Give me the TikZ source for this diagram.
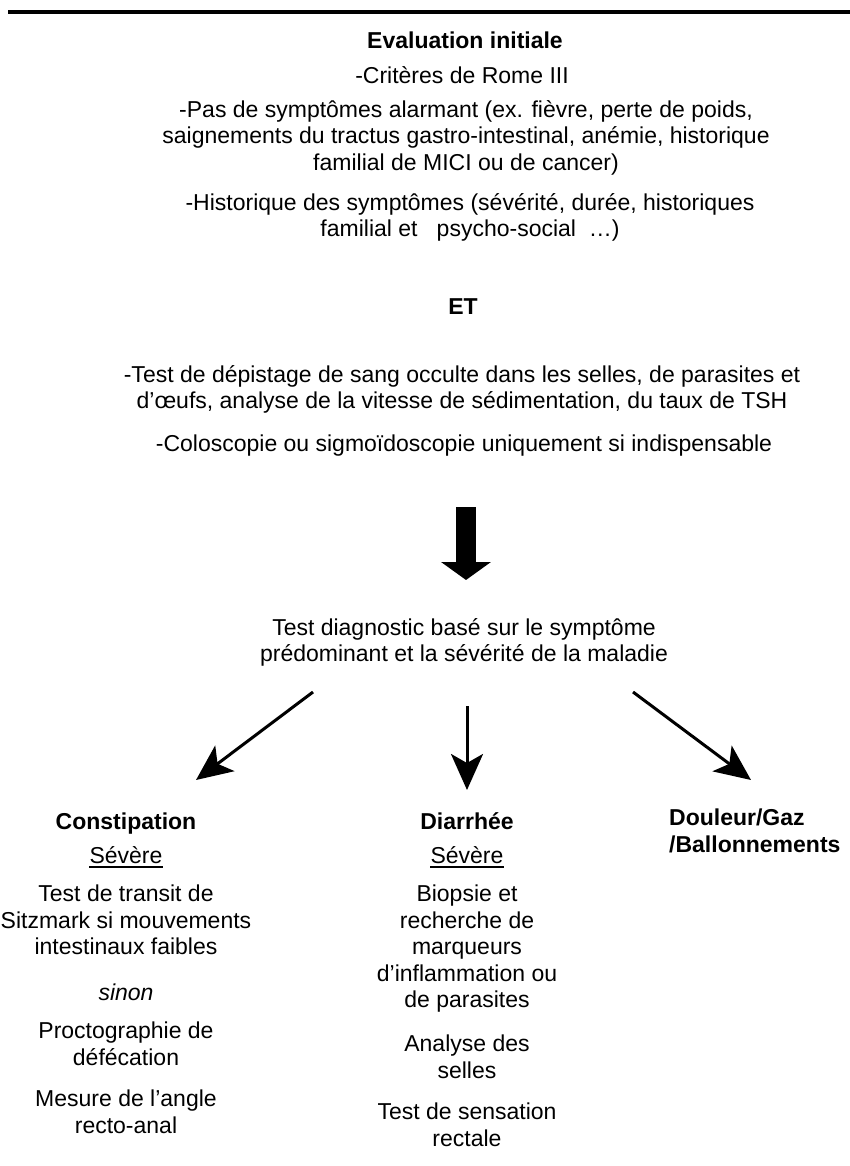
\documentclass[tikz,border=0pt]{standalone}
\usepackage{fontspec}
\setmainfont{Liberation Sans}
\usetikzlibrary{arrows.meta}
\newcommand\myfs{\fontsize{23}{26.5}\selectfont}
\begin{document}
\begin{tikzpicture}[x=1pt,y=-1pt,
  txt/.style={font=\myfs, inner sep=0pt, anchor=north, align=center,
    execute at begin node={\rule{0pt}{20pt}}},
  bold/.style={font=\myfs\bfseries},
  ital/.style={font=\myfs\itshape},
  branch/.style={line width=3pt, -{Stealth[length=36pt,width=32pt,inset=9pt]}},
  bigarrow/.style={line width=20pt, -{Triangle[length=18pt,width=49pt]}},
  uline/.style={line width=1.8pt}]
\useasboundingbox (0,0) rectangle (850,1166);
\fill[white] (0,0) rectangle (850,1166);
% top rule
\coordinate (r1) at (8,12);
\coordinate (r2) at (850,12);
\draw[line width=4.5pt] (r1) -- (r2);
% initial evaluation
\node[txt,bold] (eval) at (465,28) {Evaluation initiale};
\node[txt] (rome) at (462,63) {-Critères de Rome III};
\node[txt] (alarm) at (466,100) {-Pas de symptômes alarmant (ex. fièvre, perte de poids,\\saignements du tractus gastro-intestinal, anémie, historique\\familial de MICI ou de cancer)};
\node[txt] (hist) at (470,193) {-Historique des symptômes (sévérité, durée, historiques\\familial et\ \ \ psycho-social\ \ …)};
\node[txt,bold] (et) at (463,294) {ET};
\node[txt] (tests) at (462,365) {-Test de dépistage de sang occulte dans les selles, de parasites et\\d’œufs, analyse de la vitesse de sédimentation, du taux de TSH};
\node[txt] (colo) at (464,431) {-Coloscopie ou sigmoïdoscopie uniquement si indispensable};
% big arrow
\coordinate (bas) at (466,507);
\coordinate (bae) at (466,580);
\draw[bigarrow] (bas) -- (bae);
\node[txt] (diag) at (464,618) {Test diagnostic basé sur le symptôme\\prédominant et la sévérité de la maladie};
% branches
\coordinate (a1s) at (313,692);
\coordinate (a1e) at (196,780);
\coordinate (a2s) at (467,706);
\coordinate (a2e) at (467,790);
\coordinate (a3s) at (633,692);
\coordinate (a3e) at (751,780);
\draw[branch] (a1s) -- (a1e);
\draw[branch] (a2s) -- (a2e);
\draw[branch] (a3s) -- (a3e);
% constipation column
\node[txt,bold] (cons) at (126,809) {Constipation};
\node[txt] (sev1) at (126,843) {Sévère};
\draw[uline] ([yshift=-4pt]sev1.base west) -- ([yshift=-4pt]sev1.base east);
\node[txt] (c1) at (126,885) {Test de transit de\\Sitzmark si mouvements\\intestinaux faibles};
\node[txt,ital] (sinon) at (126,980) {sinon};
\node[txt] (c2) at (126,1022) {Proctographie de\\défécation};
\node[txt] (c3) at (126,1090) {Mesure de l’angle\\recto-anal};
% diarrhea column
\node[txt,bold] (diar) at (467,809) {Diarrhée};
\node[txt] (sev2) at (467,843) {Sévère};
\draw[uline] ([yshift=-4pt]sev2.base west) -- ([yshift=-4pt]sev2.base east);
\node[txt] (d1) at (467,885) {Biopsie et\\recherche de\\marqueurs\\d’inflammation ou\\de parasites};
\node[txt] (d2) at (467,1035) {Analyse des\\selles};
\node[txt] (d3) at (467,1103) {Test de sensation\\rectale};
% pain column
\node[txt,bold,anchor=north west,align=left] (doul) at (669,809) {Douleur/Gaz\\/Ballonnements};
\end{tikzpicture}
\end{document}
